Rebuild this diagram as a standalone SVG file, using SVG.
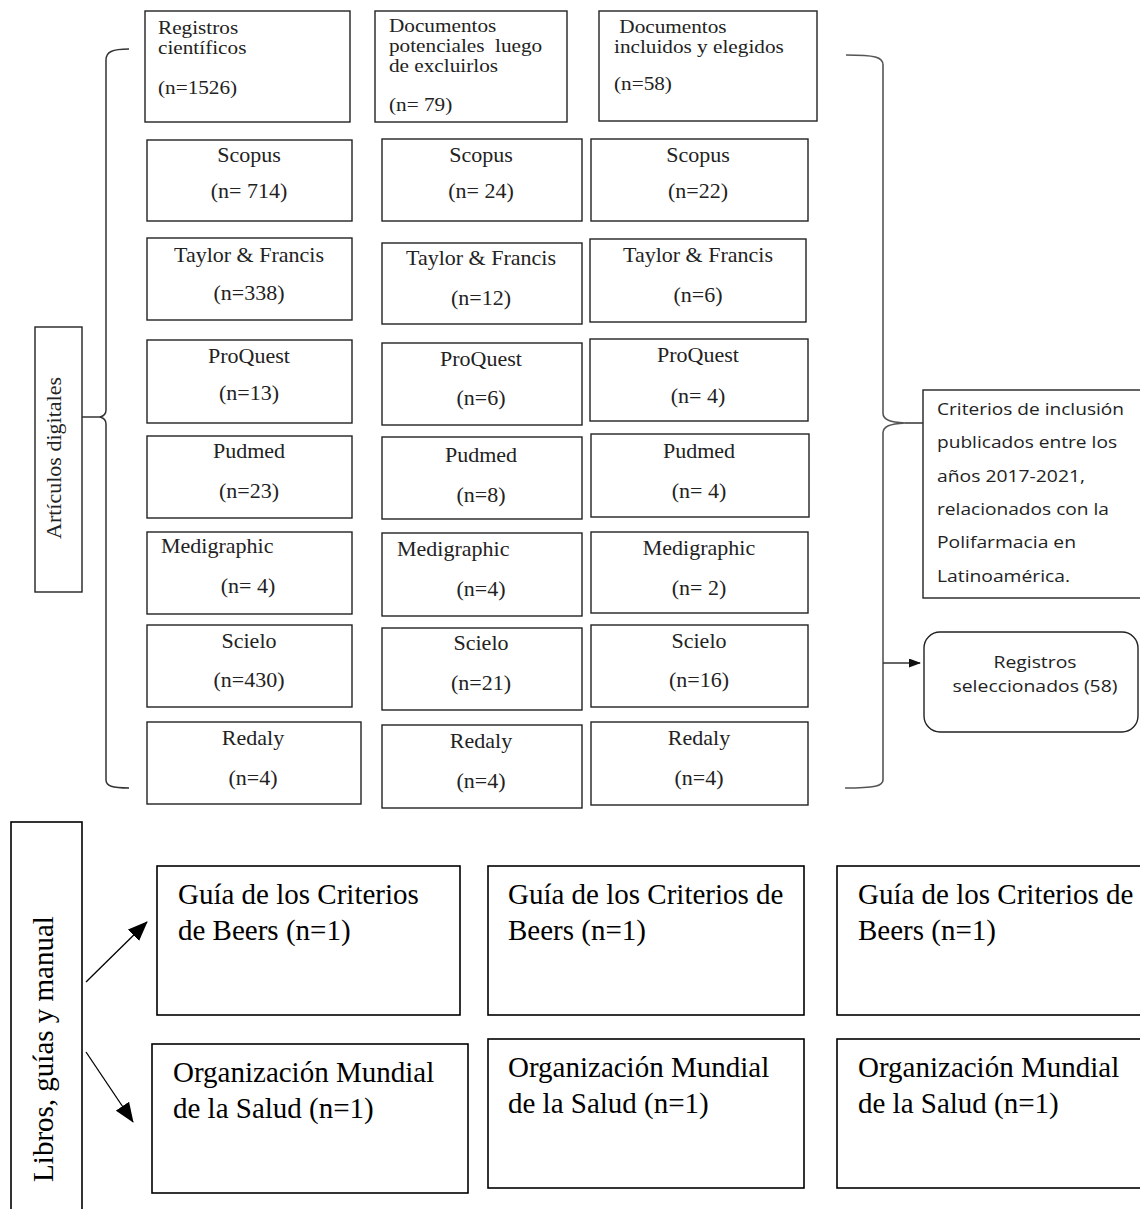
<svg xmlns="http://www.w3.org/2000/svg" width="1140" height="1209" viewBox="0 0 1140 1209">
<style>
  .bx { fill: #fff; stroke: #222; stroke-width: 1.4; }
  .bb { fill: #fff; stroke: #000; stroke-width: 1.6; }
  .t { font-family: "Liberation Serif", "Times New Roman", serif; font-size: 22px; fill: #222; white-space: pre; }
  .th { font-family: "Liberation Serif", "Times New Roman", serif; font-size: 18px; fill: #222; white-space: pre; }
  .c { text-anchor: middle; }
  .tb { font-family: "Liberation Serif", "Times New Roman", serif; font-size: 29px; fill: #000; }
  .ts { font-family: "Open Sans", "Liberation Sans", sans-serif; font-size: 16px; fill: #222; }
  .br { fill: none; stroke: #333; stroke-width: 1.5; }
  .br2 { fill: none; stroke: #555; stroke-width: 1.6; }
  .ln { fill: none; stroke: #000; stroke-width: 1.3; }
</style>
<defs>
  <marker id="ah" markerUnits="userSpaceOnUse" markerWidth="20" markerHeight="16" refX="19" refY="8" orient="auto">
    <path d="M0,0 L20,8 L0,16 z" fill="#000"/>
  </marker>
  <marker id="ahs" markerUnits="userSpaceOnUse" markerWidth="12" markerHeight="9" refX="11" refY="4.5" orient="auto">
    <path d="M0,0 L12,4.5 L0,9 z" fill="#111"/>
  </marker>
</defs>

<!-- Header nodes -->
<g id="h-registros">
  <rect class="bx" x="145" y="11" width="205" height="111"/>
  <g transform="translate(158,0) scale(1.18,1)">
    <text class="th" x="0" y="34">Registros</text>
    <text class="th" x="0" y="54">científicos</text>
    <text class="th" x="0" y="94">(n=1526)</text>
  </g>
</g>
<g id="h-potenciales">
  <rect class="bx" x="375" y="11" width="192" height="111"/>
  <g transform="translate(389,0) scale(1.18,1)">
    <text class="th" x="0" y="32">Documentos</text>
    <text class="th" x="0" y="52">potenciales  luego</text>
    <text class="th" x="0" y="72">de excluirlos</text>
    <text class="th" x="0" y="111">(n= 79)</text>
  </g>
</g>
<g id="h-incluidos">
  <rect class="bx" x="599" y="11" width="218" height="110"/>
  <g transform="translate(614,0) scale(1.18,1)">
    <text class="th" x="0" y="33"> Documentos</text>
    <text class="th" x="0" y="53">incluidos y elegidos</text>
    <text class="th" x="0" y="90">(n=58)</text>
  </g>
</g>

<!-- Column 1 -->
<g id="c1-scopus"><rect class="bx" x="147" y="140" width="205" height="81"/><text class="t c" x="249" y="162">Scopus</text><text class="t c" x="249" y="198">(n= 714)</text></g>
<g id="c1-taylor"><rect class="bx" x="147" y="238" width="205" height="82"/><text class="t c" x="249" y="262">Taylor &amp; Francis</text><text class="t c" x="249" y="300">(n=338)</text></g>
<g id="c1-proquest"><rect class="bx" x="147" y="340" width="205" height="83"/><text class="t c" x="249" y="363">ProQuest</text><text class="t c" x="249" y="400">(n=13)</text></g>
<g id="c1-pudmed"><rect class="bx" x="147" y="436" width="205" height="82"/><text class="t c" x="249" y="458">Pudmed</text><text class="t c" x="249" y="498">(n=23)</text></g>
<g id="c1-medigraphic"><rect class="bx" x="147" y="532" width="205" height="82"/><text class="t" x="161" y="553">Medigraphic</text><text class="t c" x="248" y="593">(n= 4)</text></g>
<g id="c1-scielo"><rect class="bx" x="147" y="625" width="205" height="82"/><text class="t c" x="249" y="648">Scielo</text><text class="t c" x="249" y="687">(n=430)</text></g>
<g id="c1-redaly"><rect class="bx" x="147" y="722" width="214" height="82"/><text class="t c" x="253" y="745">Redaly</text><text class="t c" x="253" y="785">(n=4)</text></g>

<!-- Column 2 -->
<g id="c2-scopus"><rect class="bx" x="382" y="139" width="200" height="82"/><text class="t c" x="481" y="162">Scopus</text><text class="t c" x="481" y="198">(n= 24)</text></g>
<g id="c2-taylor"><rect class="bx" x="382" y="243" width="200" height="81"/><text class="t c" x="481" y="265">Taylor &amp; Francis</text><text class="t c" x="481" y="305">(n=12)</text></g>
<g id="c2-proquest"><rect class="bx" x="382" y="343" width="200" height="82"/><text class="t c" x="481" y="366">ProQuest</text><text class="t c" x="481" y="405">(n=6)</text></g>
<g id="c2-pudmed"><rect class="bx" x="382" y="437" width="200" height="82"/><text class="t c" x="481" y="462">Pudmed</text><text class="t c" x="481" y="502">(n=8)</text></g>
<g id="c2-medigraphic"><rect class="bx" x="382" y="533" width="200" height="83"/><text class="t" x="397" y="556">Medigraphic</text><text class="t c" x="481" y="596">(n=4)</text></g>
<g id="c2-scielo"><rect class="bx" x="382" y="628" width="200" height="82"/><text class="t c" x="481" y="650">Scielo</text><text class="t c" x="481" y="690">(n=21)</text></g>
<g id="c2-redaly"><rect class="bx" x="382" y="725" width="200" height="83"/><text class="t c" x="481" y="748">Redaly</text><text class="t c" x="481" y="788">(n=4)</text></g>

<!-- Column 3 -->
<g id="c3-scopus"><rect class="bx" x="591" y="139" width="217" height="82"/><text class="t c" x="698" y="162">Scopus</text><text class="t c" x="698" y="198">(n=22)</text></g>
<g id="c3-taylor"><rect class="bx" x="590" y="239" width="216" height="83"/><text class="t c" x="698" y="262">Taylor &amp; Francis</text><text class="t c" x="698" y="302">(n=6)</text></g>
<g id="c3-proquest"><rect class="bx" x="590" y="339" width="218" height="82"/><text class="t c" x="698" y="362">ProQuest</text><text class="t c" x="698" y="403">(n= 4)</text></g>
<g id="c3-pudmed"><rect class="bx" x="591" y="434" width="218" height="83"/><text class="t c" x="699" y="458">Pudmed</text><text class="t c" x="699" y="498">(n= 4)</text></g>
<g id="c3-medigraphic"><rect class="bx" x="591" y="532" width="217" height="81"/><text class="t c" x="699" y="555">Medigraphic</text><text class="t c" x="699" y="595">(n= 2)</text></g>
<g id="c3-scielo"><rect class="bx" x="591" y="625" width="217" height="82"/><text class="t c" x="699" y="648">Scielo</text><text class="t c" x="699" y="687">(n=16)</text></g>
<g id="c3-redaly"><rect class="bx" x="591" y="722" width="217" height="83"/><text class="t c" x="699" y="745">Redaly</text><text class="t c" x="699" y="785">(n=4)</text></g>

<!-- Side labels -->
<g id="articulos">
  <rect class="bx" x="35" y="327" width="47" height="265"/>
  <text class="t" font-size="19" text-anchor="middle" transform="translate(61,458) rotate(-90)">Artículos digitales</text>
</g>
<g id="criterios">
  <rect class="bx" x="923" y="390" width="230" height="208"/>
  <text class="ts" x="937" y="415" textLength="187" lengthAdjust="spacingAndGlyphs">Criterios de inclusión</text>
  <text class="ts" x="937" y="448" textLength="180" lengthAdjust="spacingAndGlyphs">publicados entre los</text>
  <text class="ts" x="937" y="482" textLength="148" lengthAdjust="spacingAndGlyphs">años 2017-2021,</text>
  <text class="ts" x="937" y="515" textLength="172" lengthAdjust="spacingAndGlyphs">relacionados con la</text>
  <text class="ts" x="937" y="548" textLength="139" lengthAdjust="spacingAndGlyphs">Polifarmacia en</text>
  <text class="ts" x="937" y="582" textLength="133" lengthAdjust="spacingAndGlyphs">Latinoamérica.</text>
</g>
<g id="seleccionados">
  <rect class="bx" x="924" y="632" width="214" height="100" rx="16" ry="16"/>
  <text class="ts" x="1035" y="668" text-anchor="middle" textLength="83" lengthAdjust="spacingAndGlyphs">Registros</text>
  <text class="ts" x="1035" y="692" text-anchor="middle" textLength="165" lengthAdjust="spacingAndGlyphs">seleccionados (58)</text>
</g>

<!-- Bottom section -->
<g id="libros">
  <rect class="bb" x="11" y="822" width="71" height="400"/>
  <text class="tb" font-size="32" text-anchor="middle" transform="translate(53,1049) rotate(-90)">Libros, guías y manual</text>
</g>
<g id="beers-1">
  <rect class="bb" x="157" y="866" width="303" height="149"/>
  <text class="tb" x="178" y="904">Guía de los Criterios</text>
  <text class="tb" x="178" y="940">de Beers (n=1)</text>
</g>
<g id="beers-2">
  <rect class="bb" x="488" y="866" width="316" height="149"/>
  <text class="tb" x="508" y="904">Guía de los Criterios de</text>
  <text class="tb" x="508" y="940">Beers (n=1)</text>
</g>
<g id="beers-3">
  <rect class="bb" x="837" y="866" width="320" height="149"/>
  <text class="tb" x="858" y="904">Guía de los Criterios de</text>
  <text class="tb" x="858" y="940">Beers (n=1)</text>
</g>
<g id="oms-1">
  <rect class="bb" x="152" y="1044" width="316" height="149"/>
  <text class="tb" x="173" y="1082">Organización Mundial</text>
  <text class="tb" x="173" y="1118">de la Salud (n=1)</text>
</g>
<g id="oms-2">
  <rect class="bb" x="488" y="1039" width="316" height="149"/>
  <text class="tb" x="508" y="1077">Organización Mundial</text>
  <text class="tb" x="508" y="1113">de la Salud (n=1)</text>
</g>
<g id="oms-3">
  <rect class="bb" x="837" y="1039" width="320" height="149"/>
  <text class="tb" x="858" y="1077">Organización Mundial</text>
  <text class="tb" x="858" y="1113">de la Salud (n=1)</text>
</g>

<!-- Connectors -->
<g id="connectors">
  <path class="br" d="M129,49 C112,49 106,52 106,60 L106,410 C106,414 104,416 100,417 C104,418 106,420 106,424 L106,780 C106,786 112,788 129,788"/>
  <path class="br" d="M82,417 L100,417"/>
  <path class="br2" d="M846,55 C875,55 883,57 883,65 L883,413 C883,420 890,422 905,423 C890,424 883,426 883,433 L883,780 C883,786 875,788 845,788"/>
  <path class="br" d="M905,423 L923,423"/>
  <path class="br" d="M883,663 L920,663" marker-end="url(#ahs)"/>
  <path class="ln" d="M86,982 L147,922" marker-end="url(#ah)"/>
  <path class="ln" d="M86,1052 L133,1122" marker-end="url(#ah)"/>
</g>
</svg>
